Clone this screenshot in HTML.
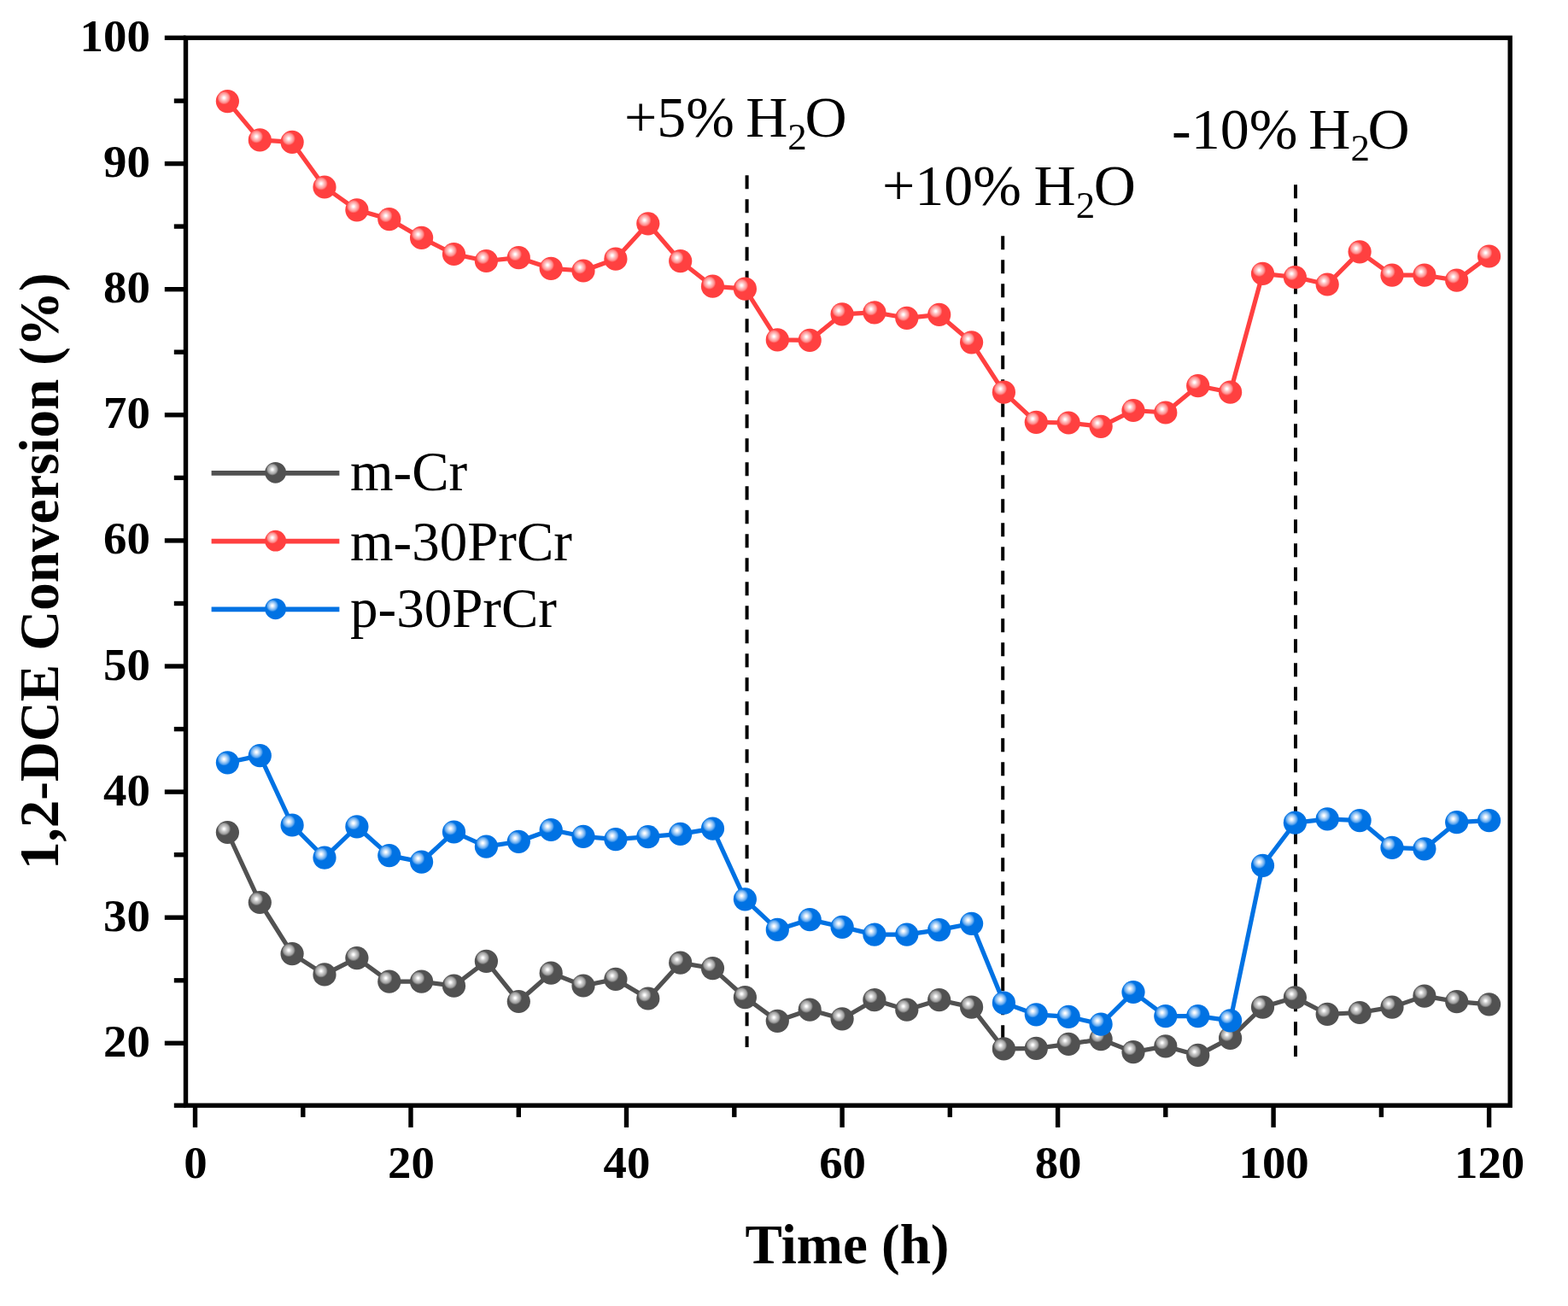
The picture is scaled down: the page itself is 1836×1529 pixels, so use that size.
<!DOCTYPE html>
<html><head><meta charset="utf-8"><title>1,2-DCE Conversion vs Time</title>
<style>
html,body{margin:0;padding:0;background:#fff;}
body{width:1836px;height:1529px;overflow:hidden;}
svg{display:block;}
text{font-family:"Liberation Serif","Times New Roman",serif;fill:#000;}
.tk{font-size:52px;font-weight:bold;}
.ttl{font-size:65px;font-weight:bold;}
.ann{font-size:68px;}
.lg{font-size:65px;}
</style></head><body>
<svg width="1836" height="1529" viewBox="0 0 1836 1529">
<defs><radialGradient id="hg" cx="0.35" cy="0.35" fx="0.35" fy="0.35" r="0.29">
<stop offset="0" stop-color="#ffffff"/><stop offset="0.1" stop-color="#ffffff"/><stop offset="0.4" stop-color="#cccccc"/><stop offset="0.75" stop-color="#a0a0a0"/><stop offset="1" stop-color="#515151"/></radialGradient><radialGradient id="hr" cx="0.35" cy="0.35" fx="0.35" fy="0.35" r="0.29">
<stop offset="0" stop-color="#ffffff"/><stop offset="0.1" stop-color="#ffffff"/><stop offset="0.4" stop-color="#ffc6c6"/><stop offset="0.75" stop-color="#ff8e8e"/><stop offset="1" stop-color="#FF4040"/></radialGradient><radialGradient id="hb" cx="0.35" cy="0.35" fx="0.35" fy="0.35" r="0.29">
<stop offset="0" stop-color="#ffffff"/><stop offset="0.1" stop-color="#ffffff"/><stop offset="0.4" stop-color="#bcdaf8"/><stop offset="0.75" stop-color="#64aaf0"/><stop offset="1" stop-color="#0072E3"/></radialGradient></defs>
<rect width="1836" height="1529" fill="#fff"/>
<line x1="874.6" y1="205.2" x2="874.6" y2="1226" stroke="#000" stroke-width="4" stroke-dasharray="16 12"/>
<line x1="1174.2" y1="276.3" x2="1174.2" y2="1226" stroke="#000" stroke-width="4" stroke-dasharray="16 12"/>
<line x1="1517.0" y1="216.3" x2="1517.0" y2="1237" stroke="#000" stroke-width="4" stroke-dasharray="16 12"/>
<polyline points="266.4,974.5 304.3,1056.5 342.1,1116.6 380.0,1140.9 417.9,1121.6 455.8,1149.2 493.6,1149.2 531.5,1154.2 569.4,1125.4 607.3,1172.5 645.2,1139.2 683.0,1154.0 720.9,1146.4 758.8,1169.0 796.7,1127.2 834.5,1133.6 872.4,1167.7 910.3,1195.3 948.2,1182.2 986.1,1192.8 1023.9,1170.7 1061.8,1182.2 1099.7,1170.7 1137.6,1179.1 1175.4,1227.9 1213.3,1227.4 1251.2,1222.4 1289.1,1216.6 1327.0,1231.7 1364.8,1224.9 1402.7,1235.4 1440.6,1215.4 1478.5,1179.1 1516.4,1167.8 1554.2,1187.3 1592.1,1185.5 1630.0,1179.1 1667.9,1166.1 1705.7,1172.6 1743.6,1175.8" fill="none" stroke="#515151" stroke-width="5.2" stroke-linejoin="round"/>
<circle cx="266.4" cy="974.5" r="13.6" fill="url(#hg)"/><circle cx="304.3" cy="1056.5" r="13.6" fill="url(#hg)"/><circle cx="342.1" cy="1116.6" r="13.6" fill="url(#hg)"/><circle cx="380.0" cy="1140.9" r="13.6" fill="url(#hg)"/><circle cx="417.9" cy="1121.6" r="13.6" fill="url(#hg)"/><circle cx="455.8" cy="1149.2" r="13.6" fill="url(#hg)"/><circle cx="493.6" cy="1149.2" r="13.6" fill="url(#hg)"/><circle cx="531.5" cy="1154.2" r="13.6" fill="url(#hg)"/><circle cx="569.4" cy="1125.4" r="13.6" fill="url(#hg)"/><circle cx="607.3" cy="1172.5" r="13.6" fill="url(#hg)"/><circle cx="645.2" cy="1139.2" r="13.6" fill="url(#hg)"/><circle cx="683.0" cy="1154.0" r="13.6" fill="url(#hg)"/><circle cx="720.9" cy="1146.4" r="13.6" fill="url(#hg)"/><circle cx="758.8" cy="1169.0" r="13.6" fill="url(#hg)"/><circle cx="796.7" cy="1127.2" r="13.6" fill="url(#hg)"/><circle cx="834.5" cy="1133.6" r="13.6" fill="url(#hg)"/><circle cx="872.4" cy="1167.7" r="13.6" fill="url(#hg)"/><circle cx="910.3" cy="1195.3" r="13.6" fill="url(#hg)"/><circle cx="948.2" cy="1182.2" r="13.6" fill="url(#hg)"/><circle cx="986.1" cy="1192.8" r="13.6" fill="url(#hg)"/><circle cx="1023.9" cy="1170.7" r="13.6" fill="url(#hg)"/><circle cx="1061.8" cy="1182.2" r="13.6" fill="url(#hg)"/><circle cx="1099.7" cy="1170.7" r="13.6" fill="url(#hg)"/><circle cx="1137.6" cy="1179.1" r="13.6" fill="url(#hg)"/><circle cx="1175.4" cy="1227.9" r="13.6" fill="url(#hg)"/><circle cx="1213.3" cy="1227.4" r="13.6" fill="url(#hg)"/><circle cx="1251.2" cy="1222.4" r="13.6" fill="url(#hg)"/><circle cx="1289.1" cy="1216.6" r="13.6" fill="url(#hg)"/><circle cx="1327.0" cy="1231.7" r="13.6" fill="url(#hg)"/><circle cx="1364.8" cy="1224.9" r="13.6" fill="url(#hg)"/><circle cx="1402.7" cy="1235.4" r="13.6" fill="url(#hg)"/><circle cx="1440.6" cy="1215.4" r="13.6" fill="url(#hg)"/><circle cx="1478.5" cy="1179.1" r="13.6" fill="url(#hg)"/><circle cx="1516.4" cy="1167.8" r="13.6" fill="url(#hg)"/><circle cx="1554.2" cy="1187.3" r="13.6" fill="url(#hg)"/><circle cx="1592.1" cy="1185.5" r="13.6" fill="url(#hg)"/><circle cx="1630.0" cy="1179.1" r="13.6" fill="url(#hg)"/><circle cx="1667.9" cy="1166.1" r="13.6" fill="url(#hg)"/><circle cx="1705.7" cy="1172.6" r="13.6" fill="url(#hg)"/><circle cx="1743.6" cy="1175.8" r="13.6" fill="url(#hg)"/>
<polyline points="266.4,118.6 304.3,163.9 342.1,166.4 380.0,219.0 417.9,245.8 455.8,256.6 493.6,278.4 531.5,297.5 569.4,305.5 607.3,301.7 645.2,314.3 683.0,317.0 720.9,303.2 758.8,261.8 796.7,305.7 834.5,335.2 872.4,338.2 910.3,397.9 948.2,398.4 986.1,367.8 1023.9,365.8 1061.8,372.3 1099.7,368.4 1137.6,400.8 1175.4,459.2 1213.3,494.3 1251.2,495.0 1289.1,499.3 1327.0,480.5 1364.8,483.0 1402.7,451.7 1440.6,459.2 1478.5,320.3 1516.4,324.5 1554.2,333.0 1592.1,294.8 1630.0,322.2 1667.9,322.2 1705.7,328.1 1743.6,300.0" fill="none" stroke="#FF4040" stroke-width="5.2" stroke-linejoin="round"/>
<circle cx="266.4" cy="118.6" r="13.6" fill="url(#hr)"/><circle cx="304.3" cy="163.9" r="13.6" fill="url(#hr)"/><circle cx="342.1" cy="166.4" r="13.6" fill="url(#hr)"/><circle cx="380.0" cy="219.0" r="13.6" fill="url(#hr)"/><circle cx="417.9" cy="245.8" r="13.6" fill="url(#hr)"/><circle cx="455.8" cy="256.6" r="13.6" fill="url(#hr)"/><circle cx="493.6" cy="278.4" r="13.6" fill="url(#hr)"/><circle cx="531.5" cy="297.5" r="13.6" fill="url(#hr)"/><circle cx="569.4" cy="305.5" r="13.6" fill="url(#hr)"/><circle cx="607.3" cy="301.7" r="13.6" fill="url(#hr)"/><circle cx="645.2" cy="314.3" r="13.6" fill="url(#hr)"/><circle cx="683.0" cy="317.0" r="13.6" fill="url(#hr)"/><circle cx="720.9" cy="303.2" r="13.6" fill="url(#hr)"/><circle cx="758.8" cy="261.8" r="13.6" fill="url(#hr)"/><circle cx="796.7" cy="305.7" r="13.6" fill="url(#hr)"/><circle cx="834.5" cy="335.2" r="13.6" fill="url(#hr)"/><circle cx="872.4" cy="338.2" r="13.6" fill="url(#hr)"/><circle cx="910.3" cy="397.9" r="13.6" fill="url(#hr)"/><circle cx="948.2" cy="398.4" r="13.6" fill="url(#hr)"/><circle cx="986.1" cy="367.8" r="13.6" fill="url(#hr)"/><circle cx="1023.9" cy="365.8" r="13.6" fill="url(#hr)"/><circle cx="1061.8" cy="372.3" r="13.6" fill="url(#hr)"/><circle cx="1099.7" cy="368.4" r="13.6" fill="url(#hr)"/><circle cx="1137.6" cy="400.8" r="13.6" fill="url(#hr)"/><circle cx="1175.4" cy="459.2" r="13.6" fill="url(#hr)"/><circle cx="1213.3" cy="494.3" r="13.6" fill="url(#hr)"/><circle cx="1251.2" cy="495.0" r="13.6" fill="url(#hr)"/><circle cx="1289.1" cy="499.3" r="13.6" fill="url(#hr)"/><circle cx="1327.0" cy="480.5" r="13.6" fill="url(#hr)"/><circle cx="1364.8" cy="483.0" r="13.6" fill="url(#hr)"/><circle cx="1402.7" cy="451.7" r="13.6" fill="url(#hr)"/><circle cx="1440.6" cy="459.2" r="13.6" fill="url(#hr)"/><circle cx="1478.5" cy="320.3" r="13.6" fill="url(#hr)"/><circle cx="1516.4" cy="324.5" r="13.6" fill="url(#hr)"/><circle cx="1554.2" cy="333.0" r="13.6" fill="url(#hr)"/><circle cx="1592.1" cy="294.8" r="13.6" fill="url(#hr)"/><circle cx="1630.0" cy="322.2" r="13.6" fill="url(#hr)"/><circle cx="1667.9" cy="322.2" r="13.6" fill="url(#hr)"/><circle cx="1705.7" cy="328.1" r="13.6" fill="url(#hr)"/><circle cx="1743.6" cy="300.0" r="13.6" fill="url(#hr)"/>
<polyline points="266.4,892.8 304.3,884.6 342.1,966.0 380.0,1004.1 417.9,967.8 455.8,1001.6 493.6,1009.1 531.5,974.0 569.4,991.1 607.3,985.3 645.2,971.5 683.0,979.3 720.9,982.6 758.8,979.6 796.7,976.4 834.5,970.1 872.4,1052.8 910.3,1088.4 948.2,1076.6 986.1,1085.3 1023.9,1094.1 1061.8,1094.1 1099.7,1088.6 1137.6,1081.3 1175.4,1174.1 1213.3,1187.8 1251.2,1190.3 1289.1,1199.1 1327.0,1161.5 1364.8,1189.6 1402.7,1189.6 1440.6,1194.8 1478.5,1013.3 1516.4,963.2 1554.2,958.9 1592.1,960.6 1630.0,992.3 1667.9,993.8 1705.7,962.7 1743.6,960.6" fill="none" stroke="#0072E3" stroke-width="5.2" stroke-linejoin="round"/>
<circle cx="266.4" cy="892.8" r="13.6" fill="url(#hb)"/><circle cx="304.3" cy="884.6" r="13.6" fill="url(#hb)"/><circle cx="342.1" cy="966.0" r="13.6" fill="url(#hb)"/><circle cx="380.0" cy="1004.1" r="13.6" fill="url(#hb)"/><circle cx="417.9" cy="967.8" r="13.6" fill="url(#hb)"/><circle cx="455.8" cy="1001.6" r="13.6" fill="url(#hb)"/><circle cx="493.6" cy="1009.1" r="13.6" fill="url(#hb)"/><circle cx="531.5" cy="974.0" r="13.6" fill="url(#hb)"/><circle cx="569.4" cy="991.1" r="13.6" fill="url(#hb)"/><circle cx="607.3" cy="985.3" r="13.6" fill="url(#hb)"/><circle cx="645.2" cy="971.5" r="13.6" fill="url(#hb)"/><circle cx="683.0" cy="979.3" r="13.6" fill="url(#hb)"/><circle cx="720.9" cy="982.6" r="13.6" fill="url(#hb)"/><circle cx="758.8" cy="979.6" r="13.6" fill="url(#hb)"/><circle cx="796.7" cy="976.4" r="13.6" fill="url(#hb)"/><circle cx="834.5" cy="970.1" r="13.6" fill="url(#hb)"/><circle cx="872.4" cy="1052.8" r="13.6" fill="url(#hb)"/><circle cx="910.3" cy="1088.4" r="13.6" fill="url(#hb)"/><circle cx="948.2" cy="1076.6" r="13.6" fill="url(#hb)"/><circle cx="986.1" cy="1085.3" r="13.6" fill="url(#hb)"/><circle cx="1023.9" cy="1094.1" r="13.6" fill="url(#hb)"/><circle cx="1061.8" cy="1094.1" r="13.6" fill="url(#hb)"/><circle cx="1099.7" cy="1088.6" r="13.6" fill="url(#hb)"/><circle cx="1137.6" cy="1081.3" r="13.6" fill="url(#hb)"/><circle cx="1175.4" cy="1174.1" r="13.6" fill="url(#hb)"/><circle cx="1213.3" cy="1187.8" r="13.6" fill="url(#hb)"/><circle cx="1251.2" cy="1190.3" r="13.6" fill="url(#hb)"/><circle cx="1289.1" cy="1199.1" r="13.6" fill="url(#hb)"/><circle cx="1327.0" cy="1161.5" r="13.6" fill="url(#hb)"/><circle cx="1364.8" cy="1189.6" r="13.6" fill="url(#hb)"/><circle cx="1402.7" cy="1189.6" r="13.6" fill="url(#hb)"/><circle cx="1440.6" cy="1194.8" r="13.6" fill="url(#hb)"/><circle cx="1478.5" cy="1013.3" r="13.6" fill="url(#hb)"/><circle cx="1516.4" cy="963.2" r="13.6" fill="url(#hb)"/><circle cx="1554.2" cy="958.9" r="13.6" fill="url(#hb)"/><circle cx="1592.1" cy="960.6" r="13.6" fill="url(#hb)"/><circle cx="1630.0" cy="992.3" r="13.6" fill="url(#hb)"/><circle cx="1667.9" cy="993.8" r="13.6" fill="url(#hb)"/><circle cx="1705.7" cy="962.7" r="13.6" fill="url(#hb)"/><circle cx="1743.6" cy="960.6" r="13.6" fill="url(#hb)"/>
<rect x="217.5" y="44.3" width="1550.7" height="1249.9" fill="none" stroke="#000" stroke-width="5.4" stroke-linejoin="miter"/>
<line x1="203.8" y1="1294.2" x2="217.5" y2="1294.2" stroke="#000" stroke-width="5.4"/><line x1="192.8" y1="1221.3" x2="217.5" y2="1221.3" stroke="#000" stroke-width="5.4"/><line x1="203.8" y1="1147.8" x2="217.5" y2="1147.8" stroke="#000" stroke-width="5.4"/><line x1="192.8" y1="1074.2" x2="217.5" y2="1074.2" stroke="#000" stroke-width="5.4"/><line x1="203.8" y1="1000.7" x2="217.5" y2="1000.7" stroke="#000" stroke-width="5.4"/><line x1="192.8" y1="927.1" x2="217.5" y2="927.1" stroke="#000" stroke-width="5.4"/><line x1="203.8" y1="853.6" x2="217.5" y2="853.6" stroke="#000" stroke-width="5.4"/><line x1="192.8" y1="780.0" x2="217.5" y2="780.0" stroke="#000" stroke-width="5.4"/><line x1="203.8" y1="706.5" x2="217.5" y2="706.5" stroke="#000" stroke-width="5.4"/><line x1="192.8" y1="632.9" x2="217.5" y2="632.9" stroke="#000" stroke-width="5.4"/><line x1="203.8" y1="559.4" x2="217.5" y2="559.4" stroke="#000" stroke-width="5.4"/><line x1="192.8" y1="485.8" x2="217.5" y2="485.8" stroke="#000" stroke-width="5.4"/><line x1="203.8" y1="412.2" x2="217.5" y2="412.2" stroke="#000" stroke-width="5.4"/><line x1="192.8" y1="338.7" x2="217.5" y2="338.7" stroke="#000" stroke-width="5.4"/><line x1="203.8" y1="265.1" x2="217.5" y2="265.1" stroke="#000" stroke-width="5.4"/><line x1="192.8" y1="191.6" x2="217.5" y2="191.6" stroke="#000" stroke-width="5.4"/><line x1="203.8" y1="118.1" x2="217.5" y2="118.1" stroke="#000" stroke-width="5.4"/><line x1="192.8" y1="44.3" x2="217.5" y2="44.3" stroke="#000" stroke-width="5.4"/>
<line x1="228.5" y1="1294.2" x2="228.5" y2="1319.9" stroke="#000" stroke-width="5.4"/><line x1="354.8" y1="1294.2" x2="354.8" y2="1307.9" stroke="#000" stroke-width="5.4"/><line x1="481.0" y1="1294.2" x2="481.0" y2="1319.9" stroke="#000" stroke-width="5.4"/><line x1="607.3" y1="1294.2" x2="607.3" y2="1307.9" stroke="#000" stroke-width="5.4"/><line x1="733.5" y1="1294.2" x2="733.5" y2="1319.9" stroke="#000" stroke-width="5.4"/><line x1="859.8" y1="1294.2" x2="859.8" y2="1307.9" stroke="#000" stroke-width="5.4"/><line x1="986.1" y1="1294.2" x2="986.1" y2="1319.9" stroke="#000" stroke-width="5.4"/><line x1="1112.3" y1="1294.2" x2="1112.3" y2="1307.9" stroke="#000" stroke-width="5.4"/><line x1="1238.6" y1="1294.2" x2="1238.6" y2="1319.9" stroke="#000" stroke-width="5.4"/><line x1="1364.8" y1="1294.2" x2="1364.8" y2="1307.9" stroke="#000" stroke-width="5.4"/><line x1="1491.1" y1="1294.2" x2="1491.1" y2="1319.9" stroke="#000" stroke-width="5.4"/><line x1="1617.4" y1="1294.2" x2="1617.4" y2="1307.9" stroke="#000" stroke-width="5.4"/><line x1="1743.6" y1="1294.2" x2="1743.6" y2="1319.9" stroke="#000" stroke-width="5.4"/>
<text class="tk" transform="translate(175.8,1236.8) scale(1.055,1)" text-anchor="end">20</text><text class="tk" transform="translate(175.8,1089.7) scale(1.055,1)" text-anchor="end">30</text><text class="tk" transform="translate(175.8,942.6) scale(1.055,1)" text-anchor="end">40</text><text class="tk" transform="translate(175.8,795.5) scale(1.055,1)" text-anchor="end">50</text><text class="tk" transform="translate(175.8,648.4) scale(1.055,1)" text-anchor="end">60</text><text class="tk" transform="translate(175.8,501.3) scale(1.055,1)" text-anchor="end">70</text><text class="tk" transform="translate(175.8,354.2) scale(1.055,1)" text-anchor="end">80</text><text class="tk" transform="translate(175.8,207.1) scale(1.055,1)" text-anchor="end">90</text><text class="tk" transform="translate(175.8,60.0) scale(1.055,1)" text-anchor="end">100</text>
<text class="tk" transform="translate(229.0,1378.5) scale(1.055,1)" text-anchor="middle">0</text><text class="tk" transform="translate(481.5,1378.5) scale(1.055,1)" text-anchor="middle">20</text><text class="tk" transform="translate(734.0,1378.5) scale(1.055,1)" text-anchor="middle">40</text><text class="tk" transform="translate(986.6,1378.5) scale(1.055,1)" text-anchor="middle">60</text><text class="tk" transform="translate(1239.1,1378.5) scale(1.055,1)" text-anchor="middle">80</text><text class="tk" transform="translate(1491.6,1378.5) scale(1.055,1)" text-anchor="middle">100</text><text class="tk" transform="translate(1744.1,1378.5) scale(1.055,1)" text-anchor="middle">120</text>
<text class="ttl" x="992" y="1479" text-anchor="middle">Time (h)</text>
<text class="ttl" transform="translate(67.5,668.7) rotate(-90)" text-anchor="middle">1,2-DCE Conversion (%)</text>
<text class="ann" x="731" y="160.2">+5% <tspan dx="-3.8">H</tspan><tspan font-size="45" dy="14.5">2</tspan><tspan dx="-2.3" dy="-14.5">O</tspan></text>
<text class="ann" x="1033" y="240.1">+10% <tspan dx="-2.4">H</tspan><tspan font-size="45" dy="14.5">2</tspan><tspan dx="-1.4" dy="-14.5">O</tspan></text>
<text class="ann" x="1372" y="173.9">-10% <tspan dx="-4">H</tspan><tspan font-size="45" dy="14.5">2</tspan><tspan dx="-2.5" dy="-14.5">O</tspan></text>
<line x1="247.6" y1="553.8" x2="397.4" y2="553.8" stroke="#515151" stroke-width="5.8"/><circle cx="322.6" cy="553.3" r="12.4" fill="url(#hg)"/><text class="lg" x="410" y="574.2">m-Cr</text>
<line x1="247.6" y1="633.7" x2="397.4" y2="633.7" stroke="#FF4040" stroke-width="5.8"/><circle cx="322.6" cy="633.2" r="12.4" fill="url(#hr)"/><text class="lg" x="410" y="655.8">m-30PrCr</text>
<line x1="247.6" y1="713.3" x2="397.4" y2="713.3" stroke="#0072E3" stroke-width="5.8"/><circle cx="322.6" cy="712.8" r="12.4" fill="url(#hb)"/><text class="lg" x="410" y="734.3">p-30PrCr</text>
</svg>
</body></html>
